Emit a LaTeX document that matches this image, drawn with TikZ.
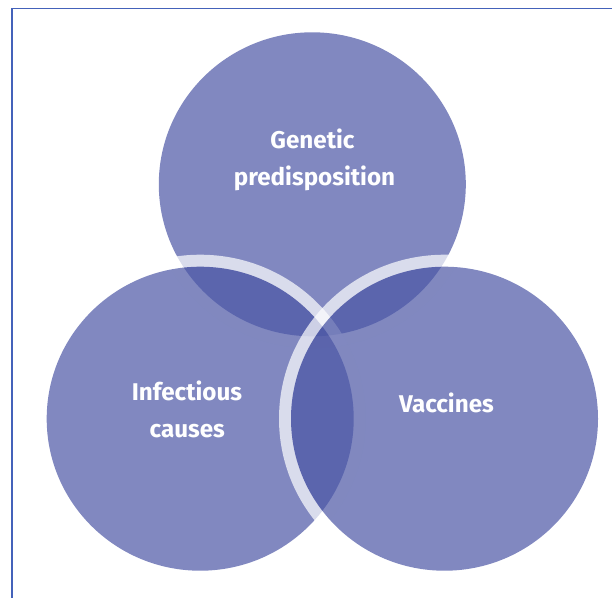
\documentclass[tikz,border=0pt]{standalone}
\usepackage{fontspec}
\setmainfont{Fira Sans}
\definecolor{venn}{RGB}{75,86,165}
\definecolor{framecol}{RGB}{68,98,186}
\begin{document}
\begin{tikzpicture}[x=1pt,y=-1pt,
  disc/.style={fill=venn},
  ring/.style={fill=white},
  vlabel/.style={text=white,font=\fontsize{24.2}{28}\selectfont\bfseries,anchor=base,inner sep=0pt}]
\useasboundingbox (0,0) rectangle (612,597);
\draw[framecol,line width=1.5pt] (12.2,600) -- (12.2,8.5) -- (615,8.5);
\coordinate (T) at (312.3,184.3);
\coordinate (L) at (200.2,418.7);
\coordinate (R) at (444.5,418.7);
\foreach \c in {T,L,R}{
  \begin{scope}[transparency group,opacity=0.7]
    \fill[ring] (\c) ellipse[x radius=165.5,y radius=164];
    \fill[disc] (\c) ellipse[x radius=153.5,y radius=152];
  \end{scope}
}
\node[vlabel] (g1) at (312.5,148.5) {Genetic};
\node[vlabel] (g2) at (314.5,185) {predisposition};
\node[vlabel] (i1) at (187,400) {Infectious};
\node[vlabel] (i2) at (187.3,437) {causes};
\node[vlabel] (v1) at (446.5,412.5) {Vaccines};
\end{tikzpicture}
\end{document}
